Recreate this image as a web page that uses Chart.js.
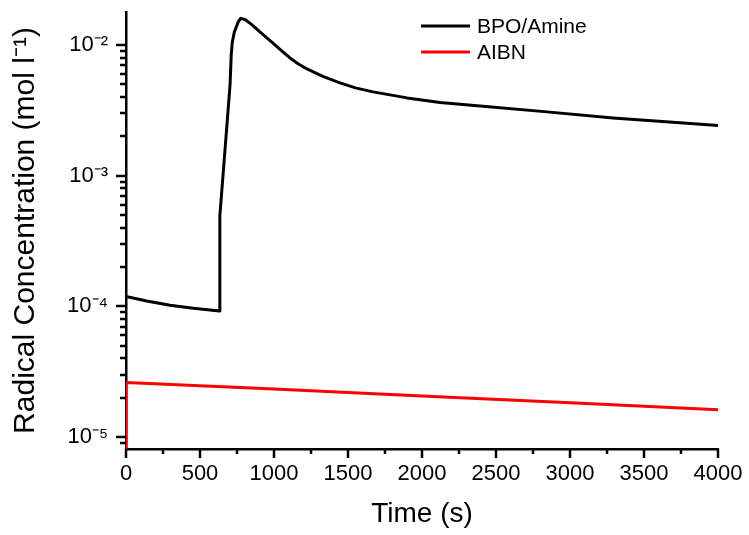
<!DOCTYPE html>
<html>
<head>
<meta charset="utf-8">
<script src="https://cdn.jsdelivr.net/npm/chart.js@4/dist/chart.umd.min.js"></script>
<style>
  html, body { margin: 0; padding: 0; background: #fff; }
  #wrap { width: 749px; height: 535px; }
</style>
</head>
<body>
<div id="wrap"><canvas id="chart"></canvas></div>
<script>
// BPO/Amine radical concentration
const bpoTime = [0, 140, 297, 455, 632, 634, 669, 703, 711, 718, 732, 759, 775, 804, 850, 905, 950, 993, 1050, 1108, 1165, 1223, 1330, 1446, 1550, 1669, 1899, 2122, 2392, 2845, 3291, 3743, 4000];
const bpoConc = [1.19e-4, 1.10e-4, 1.02e-4, 9.66e-5, 9.2e-5, 4.9e-4, 1.58e-3, 4.96e-3, 8.4e-3, 1.05e-2, 1.26e-2, 1.51e-2, 1.60e-2, 1.57e-2, 1.434e-2, 1.26e-2, 1.141e-2, 1.035e-2, 9.08e-3, 7.96e-3, 7.16e-3, 6.56e-3, 5.75e-3, 5.13e-3, 4.70e-3, 4.38e-3, 3.94e-3, 3.64e-3, 3.42e-3, 3.08e-3, 2.77e-3, 2.54e-3, 2.42e-3];

// AIBN radical concentration
const aibnTime = [0, 0, 1000, 2000, 3000, 4000];
const aibnConc = [5e-6, 2.61e-5, 2.33e-5, 2.06e-5, 1.83e-5, 1.62e-5];

const xTicks = [0, 500, 1000, 1500, 2000, 2500, 3000, 3500, 4000];
const yTicks = [1e-5, 1e-4, 1e-3, 1e-2];
const yTickLabels = ['10\u207B\u2075', '10\u207B\u2074', '10\u207B\u00B3', '10\u207B\u00B2'];

const seriesNames = ['BPO/Amine', 'AIBN'];
const seriesColors = ['#000000', '#ff0000'];

const fontFamily = '"Liberation Sans", Arial, sans-serif';

function toPoints(xs, ys) {
    return xs.map((x, i) => ({ x: x, y: ys[i] }));
}

// axis tick marks: long on labelled values, short in between
const tickMarks = {
    id: 'tickMarks',
    afterDraw(chart) {
        const ctx = chart.ctx;
        const x = chart.scales.x;
        const y = chart.scales.y;
        const area = chart.chartArea;
        ctx.save();
        ctx.strokeStyle = '#000';
        ctx.lineWidth = 2.5;
        ctx.beginPath();
        for (let d = -6; d <= -1; d++) {
            for (let m = 1; m <= 9; m++) {
                const v = m * Math.pow(10, d);
                if (v < y.min || v > y.max) continue;
                const py = Math.round(y.getPixelForValue(v));
                const len = m === 1 ? 10 : 6;
                ctx.moveTo(area.left - len, py);
                ctx.lineTo(area.left, py);
            }
        }
        for (let v = 0; v <= 4000; v += 250) {
            const px = Math.round(x.getPixelForValue(v));
            const len = v % 500 === 0 ? 9 : 5;
            ctx.moveTo(px, area.bottom);
            ctx.lineTo(px, area.bottom + len);
        }
        ctx.stroke();
        ctx.restore();
    }
};

// legend in the upper right of the plot
const insideLegend = {
    id: 'insideLegend',
    afterDraw(chart) {
        const ctx = chart.ctx;
        ctx.save();
        ctx.font = '21px ' + fontFamily;
        ctx.textBaseline = 'middle';
        ctx.fillStyle = '#000';
        seriesNames.forEach((name, i) => {
            const ly = 26 + i * 26;
            ctx.strokeStyle = seriesColors[i];
            ctx.lineWidth = 3;
            ctx.beginPath();
            ctx.moveTo(421, ly);
            ctx.lineTo(470, ly);
            ctx.stroke();
            ctx.fillText(name, 477, ly + 1);
        });
        ctx.restore();
    }
};

new Chart(document.getElementById('chart').getContext('2d'), {
    type: 'line',
    data: {
        datasets: [
            {
                label: seriesNames[0],
                data: toPoints(bpoTime, bpoConc),
                borderColor: seriesColors[0],
                backgroundColor: seriesColors[0],
                borderWidth: 3,
                borderJoinStyle: 'round',
                pointRadius: 0,
                tension: 0
            },
            {
                label: seriesNames[1],
                data: toPoints(aibnTime, aibnConc),
                borderColor: seriesColors[1],
                backgroundColor: seriesColors[1],
                borderWidth: 3,
                pointRadius: 0,
                tension: 0
            }
        ]
    },
    options: {
        responsive: true,
        maintainAspectRatio: false,
        animation: false,
        layout: { padding: { left: 0, top: 12, right: 31, bottom: 0 } },
        plugins: {
            legend: { display: false },
            tooltip: { enabled: false }
        },
        scales: {
            x: {
                type: 'linear',
                min: 0,
                max: 4000,
                grid: { display: false },
                border: { display: true, color: '#000', width: 2.5 },
                afterBuildTicks: scale => { scale.ticks = xTicks.map(v => ({ value: v })); },
                afterFit: scale => {
                    scale.height = 86;
                    scale.paddingLeft = 0;
                    scale.paddingRight = 0;
                },
                ticks: {
                    color: '#000',
                    padding: 4,
                    maxRotation: 0,
                    font: { family: fontFamily, size: 22 },
                    callback: value => String(value)
                },
                title: {
                    display: true,
                    text: 'Time (s)',
                    color: '#000',
                    padding: { top: 0, bottom: 4 },
                    font: { family: fontFamily, size: 28 }
                }
            },
            y: {
                type: 'logarithmic',
                min: 8.1e-6,
                max: 1.79e-2,
                grid: { display: false },
                border: { display: true, color: '#000', width: 2.5 },
                afterBuildTicks: scale => { scale.ticks = yTicks.map(v => ({ value: v })); },
                afterFit: scale => {
                    scale.width = 126;
                    scale.paddingTop = 0;
                    scale.paddingBottom = 0;
                },
                ticks: {
                    color: '#000',
                    padding: 10,
                    font: { family: fontFamily, size: 22 },
                    callback: (value) => {
                        const i = yTicks.findIndex(t => Math.abs(t - value) / t < 1e-6);
                        return i >= 0 ? yTickLabels[i] : '';
                    }
                },
                title: {
                    display: true,
                    text: 'Radical Concentration (mol l\u207B\u00B9)',
                    color: '#000',
                    padding: { top: 8, bottom: 0 },
                    font: { family: fontFamily, size: 30 }
                }
            }
        }
    },
    plugins: [tickMarks, insideLegend]
});
</script>
</body>
</html>
